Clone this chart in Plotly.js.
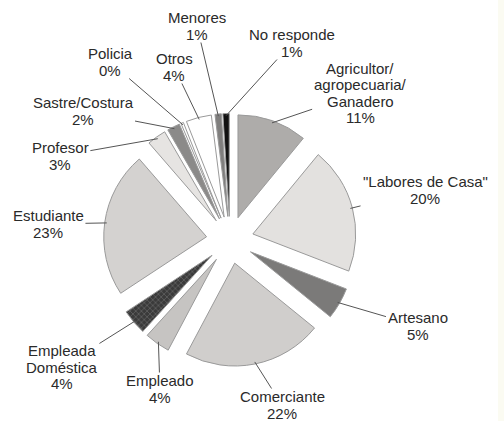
<!DOCTYPE html>
<html>
<head>
<meta charset="utf-8">
<script src="https://cdn.plot.ly/plotly-3.0.1.min.js"></script>
<style>html,body{margin:0;padding:0;background:#fff;}#chart{width:504px;height:421px;}</style>
</head>
<body>
<div id="chart"></div>
<script>
const categories = ["Agricultor/<br>agropecuaria/<br>Ganadero", "\"Labores de Casa\"", "Artesano", "Comerciante", "Empleado", "Empleada<br>Doméstica", "Estudiante", "Profesor", "Sastre/Costura", "Policia", "Otros", "Menores", "No responde"];
const values = [11, 20, 5, 22, 4, 4, 23, 3, 2, 0.4, 4, 1, 1];
const percentLabels = ["11%", "20%", "5%", "22%", "4%", "4%", "23%", "3%", "2%", "0%", "4%", "1%", "1%"];
const sliceColors = ["#aeacaa", "#e3e1df", "#7b7a79", "#d0cecc", "#c6c4c2", "#3a3a3a", "#d4d2d0", "#e6e4e2", "#8b8a89", "#ffffff", "#ffffff", "#7f7e7d", "#111111"];
const patterns = ["", "", "", "", "", "x", "", "", "", "", "", "", ""];

// label block centres (figure pixels), layout only
const labelPos = [[360, 93], [425, 190], [418, 326], [282, 405], [160, 389], [62, 367], [48, 224], [60, 156], [83, 111], [110, 62], [174, 67], [197, 26], [292, 43]];

const W = 504, H = 421;
const PULL = 0.23;
const PITCH = 16.5;
const FONT_SIZE = 15;
const FONT = "Liberation Sans, Arial, sans-serif";

const trace = {
  type: "pie",
  labels: categories,
  values: values,
  text: percentLabels,
  sort: false,
  direction: "clockwise",
  rotation: 0,
  pull: PULL,
  marker: {
    colors: sliceColors,
    line: {color: "#9a9a9a", width: 1},
    pattern: {shape: patterns, fgcolor: "#6a6a6a", bgcolor: "#3a3a3a", size: 4, solidity: 0.3}
  },
  textinfo: "none",
  textposition: "none",
  showlegend: false,
  hoverinfo: "skip",
  domain: {x: [0.2054, 0.7073], y: [0.1295, 0.7304]}
};

const layout = {
  width: W, height: H,
  margin: {l: 0, r: 0, t: 0, b: 0},
  paper_bgcolor: "#ffffff",
  showlegend: false,
  shapes: [{type: "rect", xref: "paper", yref: "paper", x0: 0.988, x1: 1, y0: 0, y1: 1, fillcolor: "#fbfbf2", line: {width: 0}, layer: "below"}]
};

const ctx = document.createElement("canvas").getContext("2d");
ctx.font = FONT_SIZE + "px 'Liberation Sans'";

Plotly.newPlot("chart", [trace], layout, {displayModeBar: false, staticPlot: true}).then(function (gd) {
  const cd = gd.calcdata[0];
  const cd0 = cd[0];
  const anns = [];
  const shapes = layout.shapes.slice();
  cd.forEach(function (pt, i) {
    const k = PULL + 0.98;
    const tx = cd0.cx + pt.pxmid[0] * k;
    const ty = cd0.cy + pt.pxmid[1] * k;
    const lines = (categories[i] + "<br>" + percentLabels[i]).split("<br>");
    const n = lines.length;
    const cx = labelPos[i][0], cy = labelPos[i][1];
    const hw = Math.max.apply(null, lines.map(function (l) { return ctx.measureText(l).width; })) / 2 + 2;
    const hh = n * PITCH / 2;
    // point where the leader line meets the text block edge
    const dx = tx - cx, dy = ty - cy;
    const s = Math.min(Math.abs(dx) > 0 ? hw / Math.abs(dx) : 1e9, Math.abs(dy) > 0 ? hh / Math.abs(dy) : 1e9);
    const ex = cx + dx * s, ey = cy + dy * s;
    shapes.push({
      type: "line", xref: "paper", yref: "paper",
      x0: tx / W, y0: 1 - ty / H, x1: ex / W, y1: 1 - ey / H,
      line: {color: "#555555", width: 1}
    });
    lines.forEach(function (ln, j) {
      const yy = cy + (j - (n - 1) / 2) * PITCH;
      anns.push({
        xref: "paper", yref: "paper",
        x: cx / W, y: 1 - yy / H,
        xanchor: "center", yanchor: "middle",
        text: ln, showarrow: false,
        font: {family: FONT, size: FONT_SIZE, color: "#2a2a2a"}
      });
    });
  });
  return Plotly.relayout(gd, {annotations: anns, shapes: shapes});
});
</script>
</body>
</html>
